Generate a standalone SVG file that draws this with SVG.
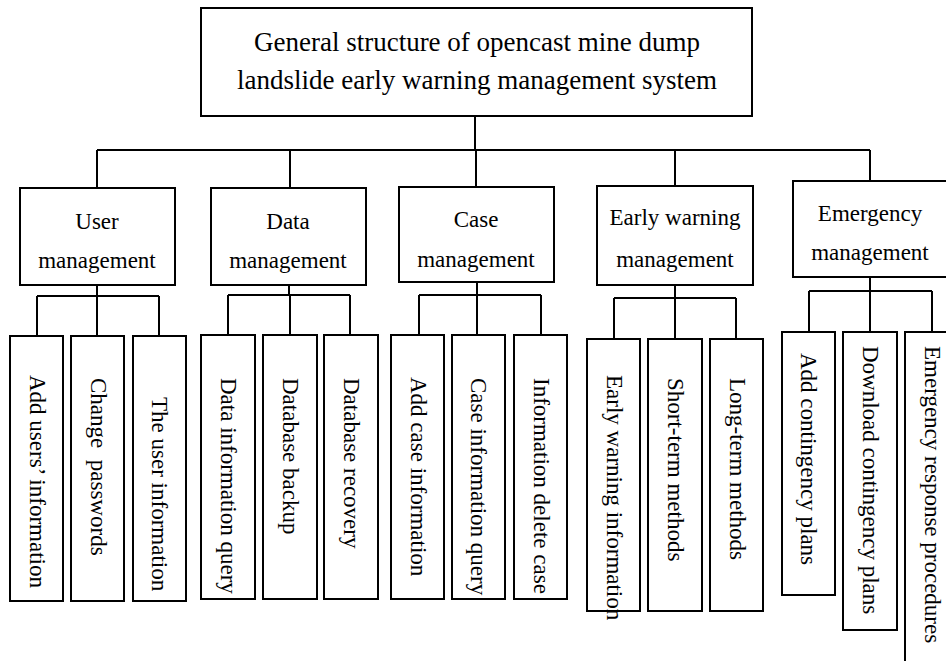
<svg xmlns="http://www.w3.org/2000/svg" width="946" height="661" viewBox="0 0 946 661">
<style>
.box{fill:#fff;stroke:#000;stroke-width:2}
.ln{fill:none;stroke:#000;stroke-width:2}
.t{font-family:"Liberation Serif","Times New Roman",serif;fill:#000}
.tt{font-size:27px;text-anchor:middle}
.mt{font-size:23px;text-anchor:middle}
.lt{font-size:23px;white-space:pre}
</style>
<rect width="946" height="661" fill="#fff"/>
<g id="connectors" class="ln">
<path d="M475 116V150M97 150H870M97 150V188M290 150V188M476 150V187M675 150V186M870 150V181"/>
<path d="M97 285V296M37 296H159M37 296V336M97 296V336M159 296V336"/>
<path d="M289 285V295M228 295H350M228 295V335M290 295V335M350 295V335"/>
<path d="M477 282V295M419 295H541M419 295V335M477 295V335M541 295V335"/>
<path d="M675 285V298M614 298H736M614 298V339M675 298V339M736 298V339"/>
<path d="M870 277V291M809 291H932M809 291V332M870 291V332M932 291V332"/>
</g>
<g id="root"><rect class="box" x="201" y="8" width="551" height="108"/>
<text class="t tt" x="477" y="51">General structure of opencast mine dump</text>
<text class="t tt" x="477" y="89">landslide early warning management system</text></g>
<g id="user"><rect class="box" x="20" y="188" width="155" height="97"/>
<text class="t mt" x="97" y="229">User</text><text class="t mt" x="97" y="268">management</text></g>
<g id="data"><rect class="box" x="211" y="188" width="155" height="97"/>
<text class="t mt" x="288" y="229">Data</text><text class="t mt" x="288" y="268">management</text></g>
<g id="case"><rect class="box" x="399" y="187" width="155" height="95"/>
<text class="t mt" x="476" y="227">Case</text><text class="t mt" x="476" y="267">management</text></g>
<g id="early"><rect class="box" x="597" y="186" width="156" height="99"/>
<text class="t mt" x="675" y="225">Early warning</text><text class="t mt" x="675" y="267">management</text></g>
<g id="emergency"><rect class="box" x="793" y="181" width="156" height="96"/>
<text class="t mt" x="870" y="221">Emergency</text><text class="t mt" x="870" y="260">management</text></g>
<g id="leaf1"><rect class="box" x="10" y="336" width="53" height="265"/><text class="t lt" transform="translate(37 375) rotate(90)" y="7">Add users’ information</text></g>
<g id="leaf2"><rect class="box" x="71" y="336" width="53" height="265"/><text class="t lt" transform="translate(98 378) rotate(90)" y="7">Change  passwords</text></g>
<g id="leaf3"><rect class="box" x="133" y="336" width="53" height="265"/><text class="t lt" transform="translate(159 397) rotate(90)" y="7">The user information</text></g>
<g id="leaf4"><rect class="box" x="201" y="335" width="54" height="264"/><text class="t lt" transform="translate(228 378) rotate(90)" y="7">Data information query</text></g>
<g id="leaf5"><rect class="box" x="263" y="335" width="54" height="264"/><text class="t lt" transform="translate(290 378) rotate(90)" y="7">Database backup</text></g>
<g id="leaf6"><rect class="box" x="324" y="335" width="54" height="264"/><text class="t lt" transform="translate(351 378) rotate(90)" y="7">Database recovery</text></g>
<g id="leaf7"><rect class="box" x="391" y="335" width="53" height="264"/><text class="t lt" transform="translate(418 377) rotate(90)" y="7">Add case information</text></g>
<g id="leaf8"><rect class="box" x="452" y="335" width="53" height="264"/><text class="t lt" transform="translate(478 378) rotate(90)" y="7">Case information query</text></g>
<g id="leaf9"><rect class="box" x="514" y="335" width="53" height="264"/><text class="t lt" transform="translate(541 378) rotate(90)" y="7">Information delete case</text></g>
<g id="leaf10"><rect class="box" x="587" y="339" width="53" height="272"/><text class="t lt" transform="translate(614 375) rotate(90)" y="7">Early warning information</text></g>
<g id="leaf11"><rect class="box" x="648" y="339" width="54" height="272"/><text class="t lt" transform="translate(675 378) rotate(90)" y="7">Short-term methods</text></g>
<g id="leaf12"><rect class="box" x="710" y="339" width="53" height="272"/><text class="t lt" transform="translate(737 378) rotate(90)" y="7">Long-term methods</text></g>
<g id="leaf13"><rect class="box" x="782" y="332" width="53" height="263"/><text class="t lt" transform="translate(808 353) rotate(90)" y="7">Add contingency plans</text></g>
<g id="leaf14"><rect class="box" x="843" y="332" width="54" height="298"/><text class="t lt" transform="translate(870 346) rotate(90)" y="7">Download contingency plans</text></g>
<g id="leaf15"><rect class="box" x="905" y="332" width="54" height="340"/><text class="t lt" transform="translate(932 346) rotate(90)" y="7">Emergency response procedures</text></g>
</svg>
